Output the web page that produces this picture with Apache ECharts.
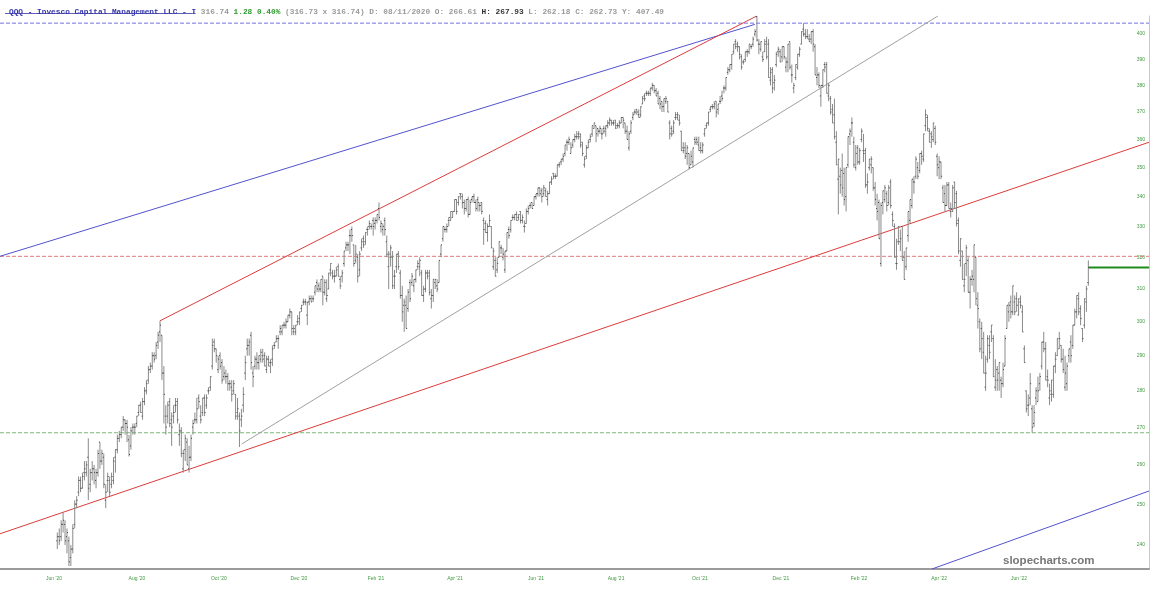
<!DOCTYPE html>
<html><head><meta charset="utf-8">
<script src="https://cdn.jsdelivr.net/npm/echarts@6/dist/echarts.min.js"></script>
<style>html,body{margin:0;padding:0;background:#fff}#c{width:1150px;height:589px}</style>
</head><body><div id="c"></div>
<script>
// Trading-day index p: 0 = first trading day of June 2020. Bars are [open, high, low, close].
const jun20=[[241,243,239,242],[242,244,240,241],[242,246,241,245],[245,248,243,246],[245,246,240,241],[242,244,238,243],[241,242,235,236],[237,240,235,239],[239,245,238,244]];
const jul20=[[245,251,244,250],[250,252,249,251],[253,257,252,256],[256,257,253,254],[254,258,254,257],[258,261,256,259],[258,261,257,260],[262,267,251,254],[255,259,253,258],[258,261,256,259],[259,260,255,258],[256,259,254,258],[258,264,257,263],[266,266,259,261],[261,264,260,263],[262,263,254,255],[251,255,249,253],[256,258,253,257],[256,257,252,253],[255,258,254,257],[256,262,255,261],[262,264,258,264]];
const aug20=[[264,268,263,267],[267,269,266,268],[268,270,267,270],[270,273,269,272],[272,272,268,271],[271,272,266,270],[266.6,267.9,262.2,262.7],[265,270,264,269],[270,271,268,270],[270,271,268,270],[271,273,270,273],[274,276,273,276],[276,277,274,274],[273,278,272,277],[277,281,276,280],[280,283,279,282],[283,287,282,286],[286,288,285,287],[287,291,286,290],[290,291,288,289],[290,294,289,293]];
const sep20=[[294,297,292,296],[297,300.3,294,299],[296,296,283,285],[285,287,271,279],[273,276,268,270],[273,277,271,276],[277,278,270,271],[272,274,265,270],[273,276,271,274],[276,278,274,276],[277,278,271,272],[268,271,265,269],[269,270,262,263],[259,264,258,263],[264,268,261,267],[266,267,260,260],[259,265,258,262],[262,268,261,267],[270,272,268,271],[272,274,271,272],[272,278,271,275]];
const oct20=[[278,279,275,277],[273,276,271,272],[274,278,273,278],[278,279,273,274],[276,279,275,278],[280,281,279,280],[281,284,280,284],[287,295,286,293],[294,295,291,292],[292,292,288,290],[286,290,285,289],[290,291,286,287],[288,289,282,283],[284,287,283,285],[284,286,282,284],[284,285,280,282],[282,283,280,282],[281,283,277,279],[280,283,279,282],[279,279,272,273],[274,278,272,275],[273,274,264.7,269]];
const nov20=[[272,275,270,273],[276,281,274,279],[285,290,283,288],[292,295,290,293],[293,295,290,294],[296,297,286,288],[285,287,281,284],[287,290,286,289],[289,291,286,288],[288,290,286,290],[289,292,288,291],[290,292,288,289],[290,291,287,287],[286,290,285,289],[289,290,287,287],[288,289,285,288],[289,293,287,292],[293,294,292,293],[294,296,294,295],[295,296,292,295]];
const dec20=[[297,299,296,298],[297,299,296,299],[299,300,298,299],[299,301,298,300],[300,302,300,302],[302,304,301,303],[303,303,296,298],[297,299,296,298],[297,299,296,299],[300,302,299,300],[301,303,299,303],[304,305,303,305],[306,307,305,306],[306,307,305,306],[302,306,299,306],[306,308,305,307],[307,308,306,306],[307,308,306,307],[309,311,308,311],[312,313,309,310],[311,312,309,310],[310,313,309,313]];
const jan21=[[314,314,305,309],[309,313,308,312],[307,313,306,308],[310,315,310,315],[316,318,314,318],[315,316,313,314],[314,316,312,314],[314,317,314,316],[317,318,314,314],[313,314,310,311],[314,316,312,315],[318,322,317,322],[323,325,322,324],[324,325,322,324],[327,329,321,327],[329,330,325,327],[324,324,317,318],[319,324,318,321],[320,321,312,314]];
const feb21=[[316,322,314,321],[323,326,322,325],[326,327,323,324],[325,328,324,328],[329,330,327,329],[330,332,329,331],[330,331,329,330],[332,333,327,330],[331,333,329,332],[332,334,331,334],[336,338,332,333],[330,332,328,331],[329,331,327,330],[332,333,327,329],[325,327,320,321],[317,322,310,321],[320,324,317,323],[320,322,310,311],[314,316,310,314]];
const mar21=[[317,321,315,321],[321,322,316,317],[315,316,307,308],[308,311,300,303],[305,307,297,306],[305,308,298,298],[304,310,303,309],[312,313,306,307],[312,315,311,314],[311,313,309,313],[313,316,312,316],[317,319,316,318],[317,320,314,319],[315,316,308,308],[308,311,306,310],[310,316,309,315],[315,316,313,314],[315,316,308,309],[307,310,304,308],[308,313,306,313],[312,313,310,313],[311,313,309,310],[312,319,312,319]];
const apr21=[[321,324,320,324],[326,330,325,330],[329,330,328,329],[329,331,328,330],[332,333,330,333],[332,335,332,335],[333,335,333,335],[335,339,335,339],[339,339,334,335],[338,340,337,340],[341,341,339,341],[340,341,336,338],[338,339,334,336],[336,339,335,339],[339,340,333,334],[334,339,334,338],[339,340,338,340],[340,341,338,338],[338,339,335,336],[339,340,335,338],[337,338,335,337]];
const may21=[[338,338,334,335],[332,333,324,329],[331,332,328,328],[328,331,325,330],[330,334,330,332],[330,330,323,323],[317,323,316,322],[319,320,314,314],[316,320,315,318],[320,325,320,325],[323,324,321,323],[320,323,319,321],[316,322,315,322],[322,328,322,328],[329,330,326,327],[329,332,328,332],[333,334,332,333],[333,334,332,334],[334,335,332,332],[333,334,332,334]];
const jun21=[[335,335,331,332],[332,334,331,333],[330,332,328,330],[331,336,331,335],[335,337,334,336],[337,338,336,337],[338,338,336,336],[337,340,337,340],[340,341,339,341],[341,343,340,343],[343,343,340,341],[342,343,338,340],[341,344,340,343],[342,343,340,340],[339,342,337,341],[341,345,341,345],[345,347,344,346],[348,348,346,347],[347,348,346,347],[347,351,347,351],[351,352,350,351],[352,353,351,353]];
const jul21=[[353,355,352,354],[355,358,354,358],[359,360,356,359],[359,361,358,360],[355,359,355,357],[358,360,357,360],[360,362,359,361],[361,363,360,361],[362,363,360,361],[362,362,357,358],[359,359,354,355],[351,354,350,353],[354,358,353,357],[357,360,357,359],[360,362,359,361],[362,365,361,365],[364,366,364,366],[365,365,359,362],[364,364,361,363],[363,365,362,364],[362,364,360,362]];
const aug21=[[364,365,362,363],[364,365,361,365],[365,367,364,366],[366,368,365,367],[367,367,365,366],[366,367,365,366],[367,367,364,364],[365,366,364,365],[365,367,364,366],[366,368,366,368],[368,368,364,367],[366,366,362,363],[363,365,360,360],[357,363,356,362],[363,367,362,366],[368,370,367,369],[370,371,369,370],[371,371,369,370],[369,371,368,368],[369,372,368,372],[373,376,373,375],[376,377,374,375]];
const sep21=[[377,378,376,377],[377,378,376,377],[377,379,376,379],[379,381,378,380],[380,380,377,378],[378,379,376,376],[377,378,373,373],[375,376,371,373],[374,374,370,372],[372,375,370,375],[374,376,373,375],[374,374,370,370],[366,367,360,362],[364,365,361,362],[363,367,362,366],[368,370,367,369],[368,370,367,369],[367,369,365,366],[363,363,356,356],[357,359,355,356],[357,359,353,354]];
const oct21=[[355,358,351,357],[355,355,349.5,350],[351,356,351,354],[352,357,350,357],[360,361,358,359],[360,361,358,359],[358,361,356,356],[357,359,355,356],[356,359,355,358],[362,364,361,364],[365,366,364,366],[366,370,365,370],[371,372,370,372],[372,373,371,372],[372,374,371,373],[374,374,368,370],[371,373,369,373],[374,376,373,374],[376,378,374,375],[379,380,377,379],[379,383,378,383]];
const nov21=[[385,387,384,386],[386,388,385,388],[388,392,386,392],[393,396,392,396],[397,398,394,395],[396,397,393,395],[395,395,390,392],[391,392,386,387],[389,390,388,389],[390,393,389,393],[393,394,391,393],[393,396,392,396],[395,396,394,395],[396,399,395,398],[400,402,399,401],[407,407.3,397,397.6],[396,398,392,396],[394,397,393,397],[391,393,389,390],[393,398,393,396],[397,399,390,391]];
const dec21=[[396,398,383,383],[382,387,380,385],[386,387,377,379],[381,384,378,382],[388,393,387,392],[393,395,391,394],[393,394,389,389],[391,395,389,395],[395,395,390,391],[387,391,385,389],[389,396,385,396],[397,397,386,387],[384,388,381,384],[379,381,377,380],[383,388,382,388],[387,392,386,392],[392,395,391,394],[396,401,396,401],[402,404.4,399,400],[400,402,398,399],[399,402,398,399],[398,400,397,397]];
const jan22=[[398,401,396,401],[401,402,393,396],[395,396,384,384],[383,387,380,384],[384,385,379,380],[376,380,372,380],[380,386,379,386],[388,389,385,387],[388,389,377,377],[376,381,374,380],[375,376,369,370],[371,373,366,366],[369,375,360,361],[359,363,351,351],[346,353,334,353],[347,350,341,344],[349,355,340,343],[348,350,337,339],[340,350,335,350],[351,361,350,361]];
const feb22=[[362,364,358,363],[366,368,361,366],[359,361,350,351],[350,358,349,355],[357,358,351,352],[352,357,351,356],[360,364,359,363],[356,362,352,355],[356,357,343,344],[344,348,341,345],[350,353,349,353],[351,354,348,353],[350,350,342,343],[343,345,337,339],[336,341,332,335],[338,339,326,326],[318,338,317,337],[338,342,334,342],[339,344,338,343]];
const mar22=[[341,342,335,337],[338,344,337,343],[345,346,336,337],[334,335,330,332],[330,331,320,320],[318,326,316,318],[325,330,324,330],[325,329,322,326],[330,330,319,319],[320,322,313,313],[317,323,316,323],[327,335,325,335],[332,339,331,339],[337,346,336,346],[345,347,341,345],[347,354,346,353],[350,352,346,347],[349,355,348,355],[355,356,351,354],[353,362,352,362],[365,371,363,369],[368,369,363,364],[363,364,359,359]];
const apr22=[[362,363,357,361],[360,366,359,366],[364,365,358,359],[354,355,347,351],[350,354,346,352],[352,352,346,347],[343,344,338,338],[341,344,335,337],[337,345,337,344],[344,345,336,336],[335,338,333,336],[335,344,335,343],[345,345,336,338],[341,342,330,331],[332,333,321,322],[319,326,317,326],[322,322,313,313],[311,318,309,313],[318,324,314,323],[319,320,309,309]];
const may22=[[309,314,304,313],[313,316,311,314],[313,324,309,324],[320,320,305,307],[305,309,298,304],[300,301,291,292],[298,300,289,295],[291,297,285,285],[281,290,280,285],[289,296,288,295],[293,296,289,291],[297,299,294,299],[295,296,284,284],[281,289,280,283],[286,287,280,283],[285,288,280,288],[283,284,278,282],[282,288,281,286],[287,296,287,295],[298,305,298,305],[303,306,300,305]];
const jun22=[[306,308,301,303],[303,311,302,311],[306,308,302,303],[307,309,303,305],[302,307,302,307],[306,308,304,305],[303,305,297,297],[292,293,288,288],[280,280,274,275],[276,279,273,276],[278,285,276,282],[275,276,268.5,270],[271,276,270,274],[278,281,276,280],[277,284,277,280],[282,285,280,284],[287,294,286,294],[294,297,291,292],[292,294,283,283],[284,286,281,283],[278,282,276,280]];
const jul22=[[279,283,277,283],[279,287,278,287],[287,291,285,289],[290,295,290,295],[292,297,292,295],[293,293,288,289],[289,292,285,286],[281,290,280,285],[282,288,280,287],[290,292,288,292],[294,296,288,290],[293,299,292,299],[299,304,299,303],[303,308,301,308],[307,309,302,303],[304,305,299,301],[298,298,294,295],[299,307,298,307],[306,311,303,310],[312,319,311,316.74]];

// first trading-day index of each block
const blocks=[[13,jun20],[22,jul20],[44,aug20],[65,sep20],[86,oct20],[108,nov20],[128,dec20],[150,jan21],[169,feb21],[188,mar21],[211,apr21],[232,may21],[252,jun21],[274,jul21],[295,aug21],[317,sep21],[338,oct21],[359,nov21],[380,dec21],[402,jan22],[422,feb22],[441,mar22],[464,apr22],[484,may22],[505,jun22],[526,jul22]];

// x-axis labels (trading-day position) and texts
const monthLabelPos=[11.3,54.1,96.4,137.7,177.4,218.2,260.0,301.3,344.6,386.4,426.7,468.0,509.2];
const monthLabels=["Jun '20","Aug '20","Oct '20","Dec '20","Feb '21","Apr '21","Jun '21","Aug '21","Oct '21","Dec '21","Feb '22","Apr '22","Jun '22"];
const priceTicks=[240,250,260,270,280,290,300,310,320,330,340,350,360,370,380,390,400];

// drawn trendlines: [[index, price],[index, price]]
const xMin=-16.56, xMax=576.3;
const blueUpper=[[xMin,320.3],[372.9,403.9]];
const redUpper=[[66,300.3],[373.9,407.3]];
const grayLine=[[108.2,265.5],[467.4,407.3]];
const redLower=[[xMin,242.7],[xMax,359.0]];
const blueLower=[[464.3,234.3],[xMax,253.3]];
const levelBlue=404.4, levelRed=320.3, levelGreen=268.5, lastPrice=316.74, lastIndex=545;
const yBottom=234.3, yTop=407.3;

const L=Math.log;
const ohlc=[];
blocks.forEach(([s,arr])=>arr.forEach((b,i)=>ohlc.push([s+i,L(b[0]),L(b[1]),L(b[2]),L(b[3])])));
const seg=(pts)=>pts.map(([x,v])=>[x,L(v)]);

function lineSeries(pts,color,type,width){
  return {type:'line',data:seg(pts),showSymbol:false,symbol:'none',silent:true,clip:true,z:3,
    lineStyle:{color:color,width:width||1,type:type||'solid'},animation:false};
}

const chart=echarts.init(document.getElementById('c'),null,{renderer:'canvas'});
chart.setOption({
  animation:false,
  backgroundColor:'#fff',
  title:{left:4,top:3,
    text:'{t|QQQ - Invesco Capital Management LLC - I} {g|316.74} {gr|1.28 0.40%} {g|(316.73 x 316.74) D: 08/11/2020 O: 266.61} {b|H: 267.93} {g|L: 262.18 C: 262.73 Y: 407.49}',
    textStyle:{fontFamily:'Liberation Mono',fontSize:7.8,rich:{
      t:{color:'#3535a8',fontFamily:'Liberation Mono',fontSize:7.8},
      g:{color:'#9a9a9a',fontFamily:'Liberation Mono',fontSize:7.8},
      gr:{color:'#2e9a2e',fontFamily:'Liberation Mono',fontSize:7.8,fontWeight:'bold'},
      b:{color:'#333',fontFamily:'Liberation Mono',fontSize:7.8,fontWeight:'bold'}
    }}},
  grid:{left:0,right:1,top:16,bottom:20,containLabel:false},
  xAxis:{type:'value',min:xMin,max:xMax,
    axisLine:{show:true,onZero:false,lineStyle:{color:'#9a9a9a',width:2}},
    axisTick:{show:false},splitLine:{show:false},
    axisLabel:{customValues:monthLabelPos,margin:7,color:'#3f9a3f',fontSize:5,fontFamily:'Liberation Sans',
      formatter:(v)=>{const i=monthLabelPos.findIndex(q=>Math.abs(q-v)<0.01);return i>=0?monthLabels[i]:'';}}},
  yAxis:{type:'value',position:'right',min:L(yBottom),max:L(yTop),scale:true,
    axisLine:{show:true,onZero:false,lineStyle:{color:'#c8c8c8',width:1}},
    axisTick:{show:false},splitLine:{show:false},
    axisLabel:{inside:true,customValues:priceTicks.map(L),margin:4,color:'#3f9a3f',fontSize:5,fontFamily:'Liberation Sans',
      formatter:(v)=>String(Math.round(Math.exp(v)))}},
  graphic:[
    {type:'line',shape:{x1:5,y1:13.5,x2:192,y2:13.5},style:{stroke:'#3535a8',lineWidth:0.8}},
    {type:'text',left:1003,top:555,style:{text:'slopecharts.com',fill:'#777',font:'bold 11.5px "Liberation Sans"'}}
  ],
  series:[
    lineSeries([[xMin,levelBlue],[xMax,levelBlue]],'#7373dd','dashed'),
    lineSeries([[xMin,levelRed],[xMax,levelRed]],'#e07a7a','dashed'),
    lineSeries([[xMin,levelGreen],[xMax,levelGreen]],'#7ab87a','dashed'),
    {type:'custom',data:ohlc,z:4,animation:false,silent:true,
     encode:{x:0,y:[1,2,3,4]},
     renderItem:function(params,api){
       const x=api.value(0);
       const o=api.coord([x,api.value(1)]), h=api.coord([x,api.value(2)]),
             l=api.coord([x,api.value(3)]), c=api.coord([x,api.value(4)]);
       const px=h[0];
       return {type:'group',children:[
         {type:'line',shape:{x1:px,y1:h[1],x2:px,y2:l[1]},style:{stroke:'#8a8a8a',lineWidth:1}},
         {type:'line',shape:{x1:px-1,y1:o[1],x2:px,y2:o[1]},style:{stroke:'#444',lineWidth:1}},
         {type:'line',shape:{x1:px,y1:c[1],x2:px+1,y2:c[1]},style:{stroke:'#444',lineWidth:1}}
       ]};
     }},
    lineSeries(blueUpper,'#5252cf'),
    lineSeries(redUpper,'#dc3c3c'),
    lineSeries(grayLine,'#a0a0a0'),
    lineSeries(redLower,'#dc3c3c'),
    lineSeries(blueLower,'#5252cf'),
    lineSeries([[lastIndex,lastPrice],[xMax,lastPrice]],'#1e8c1e','solid',2)
  ]
});
</script></body></html>
